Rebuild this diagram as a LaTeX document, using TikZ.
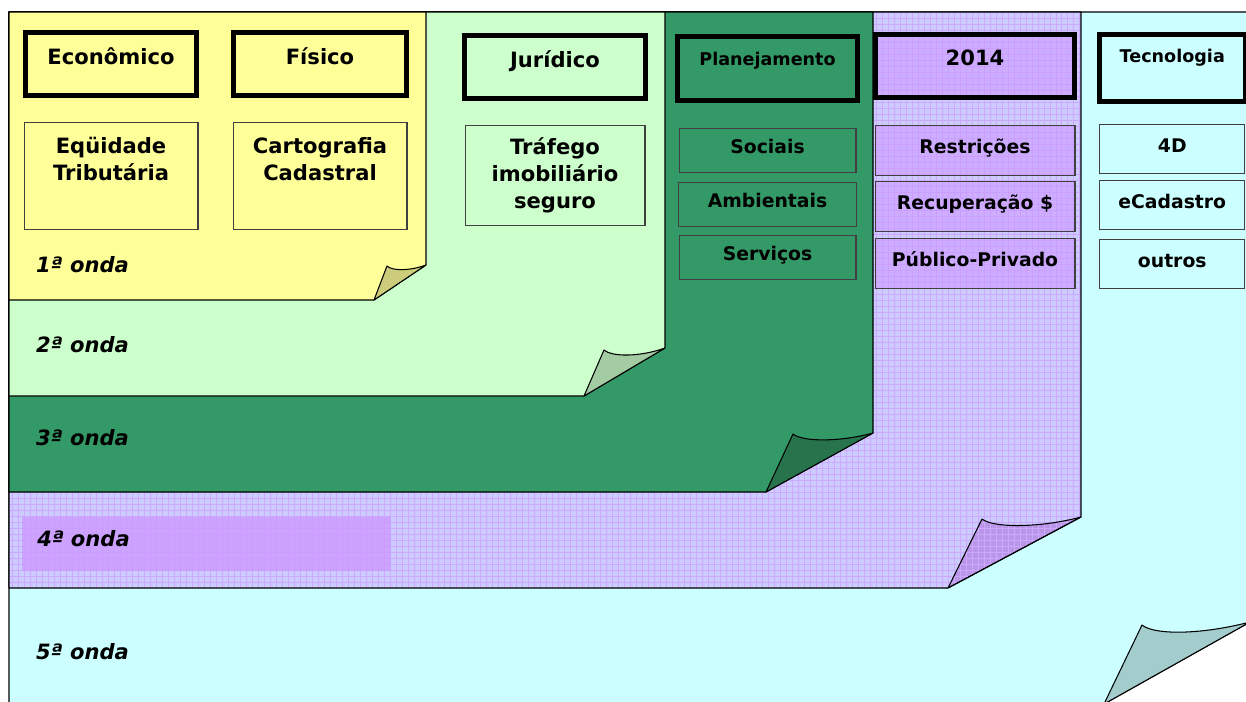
\documentclass[tikz,border=0pt]{standalone}
\usepackage{fontspec}
\setmainfont{DejaVu Sans}
\usetikzlibrary{positioning}
\definecolor{ondaone}{RGB}{255,255,153}
\definecolor{ondatwo}{RGB}{204,255,204}
\definecolor{ondathree}{RGB}{51,153,102}
\definecolor{ondafour}{RGB}{204,204,255}
\definecolor{ondalilac}{RGB}{204,153,255}
\definecolor{ondafold}{RGB}{186,150,232}
\definecolor{ondafive}{RGB}{204,255,255}

\begin{document}
\begin{tikzpicture}[
    x=0.02cm, y=-0.02cm,
    page/.style={draw=black, line width=0.6pt, line join=round},
    gridline/.style={ondalilac!70!ondafour, line width=0.3pt},
    head/.style={rectangle, draw=black, line width=2.6pt, anchor=north west,
                minimum width=3.43cm, inner ysep=0.1cm, text height=0.55cm, text depth=0.52cm,
                font=\fontsize{12}{14}\selectfont\bfseries},
    smallhead/.style={head, text height=0.48cm, text depth=0.61cm,
                font=\fontsize{10}{12}\selectfont\bfseries},
    item/.style={rectangle, draw=black!75, line width=0.6pt, minimum height=0.88cm,
                text height=0.8em, text depth=0.4em, align=center,
                font=\fontsize{10.7}{13}\selectfont\bfseries},
    bigitem/.style={item, inner ysep=0.17cm, text height=1.0cm, text depth=0.8cm,
                font=\fontsize{12}{15.5}\selectfont\bfseries},
    lilac/.style={fill=ondalilac, fill opacity=0.6, text opacity=1},
    onda/.style={anchor=west, font=\fontsize{12}{14}\selectfont\bfseries\itshape}
]
    \useasboundingbox (0,0) rectangle (1246,701);

    % Fifth wave - page at the back
    \filldraw[page, fill=ondafive] (9,12) -- (1250,12) -- (1250,622) -- (1104,704) -- (9,704) -- cycle;
    \filldraw[page, fill=ondafive!80!black] (1104,704) -- (1142,625) .. controls (1154,635) and (1200,635) .. (1250,622) -- cycle;

    % Fourth wave - gridded page
    \fill[ondafour] (9,12) -- (1081,12) -- (1081,517) -- (948,588) -- (9,588) -- cycle;
    \fill[ondafold] (948,588) -- (982,519) .. controls (993,528) and (1040,528) .. (1081,517) -- cycle;
    \begin{scope}
        \clip (9,12) -- (1081,12) -- (1081,517) -- (948,588) -- (9,588) -- cycle
              (948,588) -- (982,519) .. controls (993,528) and (1040,528) .. (1081,517) -- cycle;
        \draw[gridline, step=0.12cm] (9,12) grid (1081,588);
    \end{scope}
    \draw[page] (9,12) -- (1081,12) -- (1081,517) -- (948,588) -- (9,588) -- cycle;
    \draw[page] (948,588) -- (982,519) .. controls (993,528) and (1040,528) .. (1081,517) -- cycle;

    % Third wave
    \filldraw[page, fill=ondathree] (9,12) -- (873,12) -- (873,433) -- (766,492) -- (9,492) -- cycle;
    \filldraw[page, fill=ondathree!75!black] (766,492) -- (793,434) .. controls (803,442) and (840,442) .. (873,433) -- cycle;

    % Second wave
    \filldraw[page, fill=ondatwo] (9,12) -- (665,12) -- (665,348) -- (584,396) -- (9,396) -- cycle;
    \filldraw[page, fill=ondatwo!80!black] (584,396) -- (604,350) .. controls (612,357) and (640,357) .. (665,348) -- cycle;

    % First wave - front page
    \filldraw[page, fill=ondaone] (9,12) -- (426,12) -- (426,265) -- (374,300) -- (9,300) -- cycle;
    \filldraw[page, fill=ondaone!80!black] (374,300) -- (387,266) .. controls (392,271) and (410,271) .. (426,265) -- cycle;

    % Column headers
    \node[head, fill=ondaone] (economico) at (23,30) {Econômico};
    \node[head, fill=ondaone, minimum width=3.47cm] (fisico) at (231,30) {Físico};
    \node[head, fill=ondatwo, minimum width=3.63cm] (juridico) at (462,33) {Jurídico};
    \node[smallhead, fill=ondathree, minimum width=3.61cm] (planejamento) at (675,34) {Planejamento};
    \node[head, lilac, minimum width=3.99cm, text height=0.52cm, text depth=0.55cm] (ano) at (873,32) {2014};
    \node[smallhead, fill=ondafive, minimum width=2.92cm, text height=0.46cm, text depth=0.69cm] (tecnologia) at (1097,32) {Tecnologia};

    % Topics under each header
    \node[bigitem, fill=ondaone, minimum width=3.48cm, below=0.47cm of economico] (equidade) {Eqüidade\\Tributária};
    \node[bigitem, fill=ondaone, minimum width=3.48cm, below=0.47cm of fisico] (cartografia) {Cartografia\\Cadastral};
    \node[bigitem, fill=ondatwo, minimum width=3.6cm, text height=1.5cm, text depth=0.16cm, below=0.47cm of juridico] (trafego) {Tráfego\\imobiliário\\seguro};

    \node[item, fill=ondathree, minimum width=3.54cm, below=0.49cm of planejamento] (sociais) {Sociais};
    \node[item, fill=ondathree, minimum width=3.56cm, below=0.18cm of sociais] (ambientais) {Ambientais};
    \node[item, fill=ondathree, minimum width=3.54cm, below=0.16cm of ambientais] (servicos) {Serviços};

    \node[item, lilac, minimum width=4cm, minimum height=1cm, below=0.49cm of ano] (restricoes) {Restrições};
    \node[item, lilac, minimum width=4cm, minimum height=1cm, below=0.1cm of restricoes] (recuperacao) {Recuperação \$};
    \node[item, lilac, minimum width=4cm, minimum height=1cm, below=0.12cm of recuperacao] (publico) {Público-Privado};

    \node[item, fill=ondafive, minimum width=2.9cm, minimum height=0.98cm, below=0.39cm of tecnologia] (quatrod) {4D};
    \node[item, fill=ondafive, minimum width=2.9cm, minimum height=0.98cm, below=0.12cm of quatrod] (ecadastro) {eCadastro};
    \node[item, fill=ondafive, minimum width=2.9cm, minimum height=0.98cm, below=0.18cm of ecadastro] (outros) {outros};

    % Wave labels
    \node[onda] (onda1) at (30,265) {1ª onda};
    \node[onda] (onda2) at (30,345) {2ª onda};
    \node[onda] (onda3) at (30,438) {3ª onda};
    \node[onda, lilac, fill opacity=0.8, minimum height=1.08cm, text width=6.78cm, inner xsep=0.3cm,
          text height=0.3cm, text depth=0.2cm] (onda4) at (22,544) {4ª onda};
    \node[onda] (onda5) at (30,652) {5ª onda};
\end{tikzpicture}
\end{document}
